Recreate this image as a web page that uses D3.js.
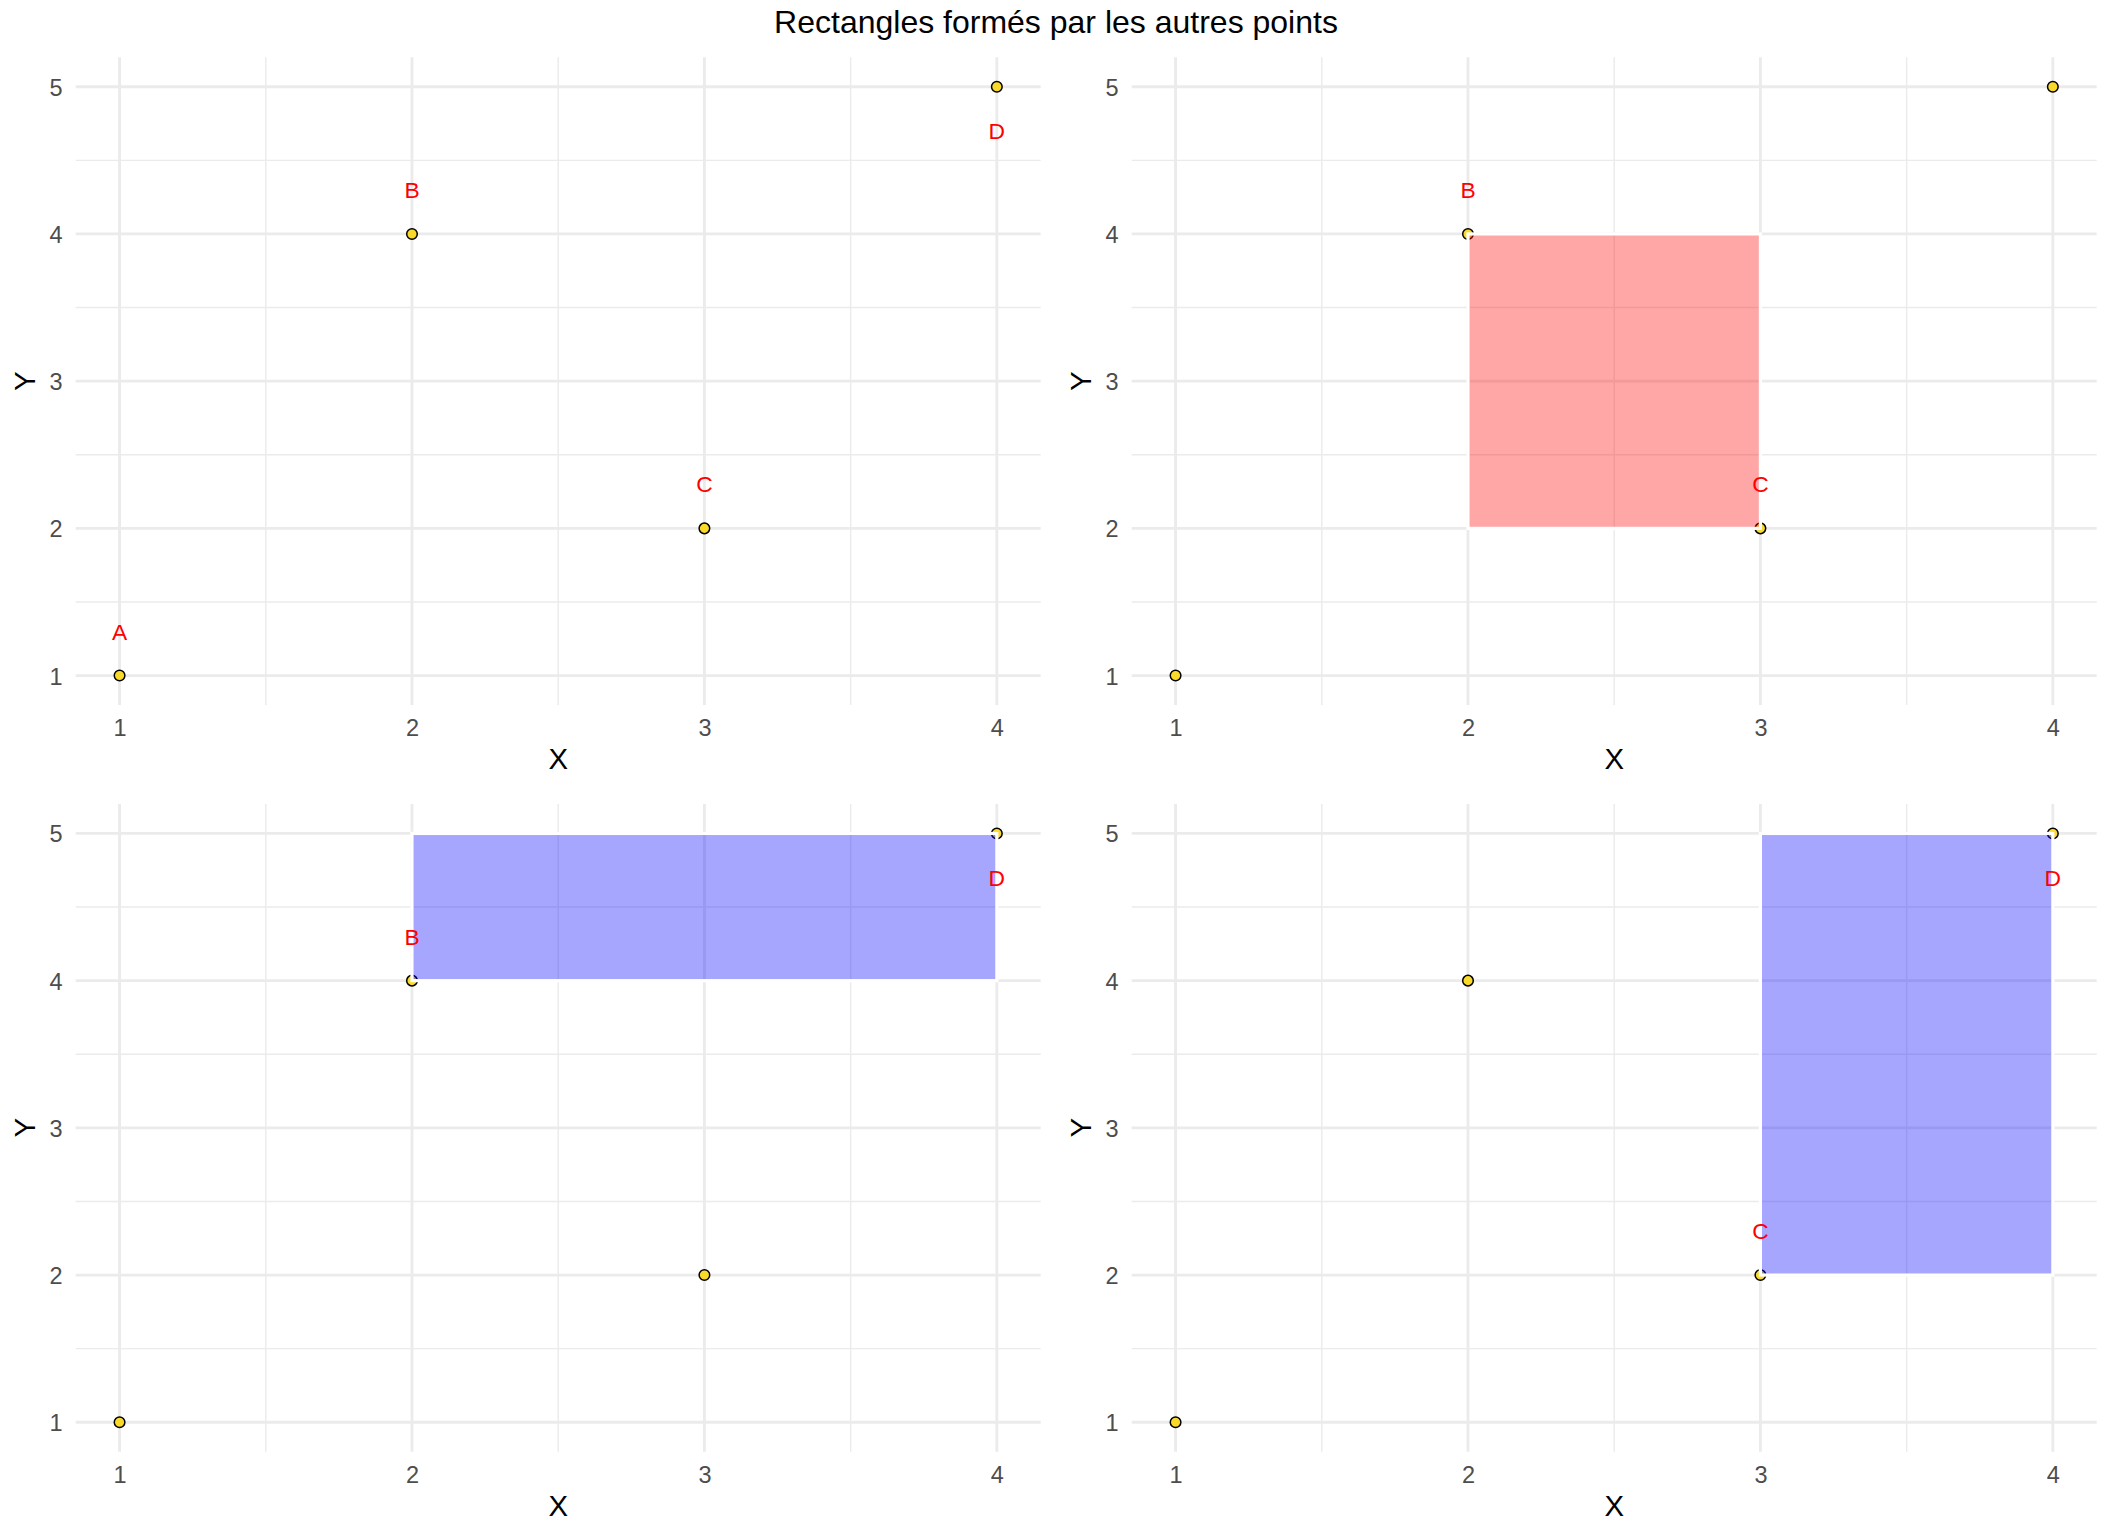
<!DOCTYPE html>
<html>
<head>
<meta charset="utf-8">
<script src="https://cdn.jsdelivr.net/npm/d3@7"></script>
<style>
  html, body { margin: 0; padding: 0; background: #ffffff; }
  svg { display: block; }
</style>
</head>
<body>
<script>
// ---- data ----
const chartTitle = "Rectangles formés par les autres points";
const pointNames = ["A", "B", "C", "D"];
const pointX = [1, 2, 3, 4];
const pointY = [1, 4, 2, 5];
const labelNudge = [0.3, 0.3, 0.3, -0.3];
const panelLabels = [["A", "B", "C", "D"], ["B", "C"], ["B", "D"], ["C", "D"]];
const rectXmin = [null, 2, 2, 3];
const rectXmax = [null, 3, 4, 4];
const rectYmin = [null, 2, 4, 2];
const rectYmax = [null, 4, 5, 5];
const rectGroup = [null, "red", "blue", "blue"];
const xTicks = [1, 2, 3, 4];
const yTicks = [1, 2, 3, 4, 5];
const xMinor = [1.5, 2.5, 3.5];
const yMinor = [1.5, 2.5, 3.5, 4.5];
const xTitle = "X";
const yTitle = "Y";

// ---- layout ----
const W = 2112, H = 1536;
const titleH = 42.6;
const cellW = W / 2, cellH = (H - titleH) / 2;
const pLeft = 75.7, pRight = cellW - 15.3, pTop = 14.7, pBottom = 662.4;
const font = "'Liberation Sans', Arial, Helvetica, sans-serif";
const fillMap = { red: "rgba(255,0,0,0.35)", blue: "rgba(0,0,255,0.35)" };

const svg = d3.select("body").append("svg")
  .attr("width", W).attr("height", H)
  .attr("viewBox", `0 0 ${W} ${H}`);
svg.append("rect").attr("width", W).attr("height", H).attr("fill", "#fff");

svg.append("text")
  .attr("x", W / 2).attr("y", 33)
  .attr("text-anchor", "middle")
  .attr("font-family", font).attr("font-size", 32)
  .attr("fill", "#000")
  .text(chartTitle);

const points = pointNames.map((n, i) => ({ name: n, x: pointX[i], y: pointY[i], nudge: labelNudge[i] }));

panelLabels.forEach((labs, pi) => {
  const col = pi % 2, row = Math.floor(pi / 2);
  const g = svg.append("g").attr("transform", `translate(${col * cellW},${titleH + row * cellH})`);

  const x = d3.scaleLinear().domain([0.85, 4.15]).range([pLeft, pRight]);
  const y = d3.scaleLinear().domain([0.8, 5.2]).range([pBottom, pTop]);

  // minor grid
  g.append("g").selectAll("line.vx").data(xMinor).join("line")
    .attr("x1", d => x(d)).attr("x2", d => x(d)).attr("y1", pTop).attr("y2", pBottom)
    .attr("stroke", "#EBEBEB").attr("stroke-width", 1.42);
  g.append("g").selectAll("line.hy").data(yMinor).join("line")
    .attr("y1", d => y(d)).attr("y2", d => y(d)).attr("x1", pLeft).attr("x2", pRight)
    .attr("stroke", "#EBEBEB").attr("stroke-width", 1.42);
  // major grid
  g.append("g").selectAll("line").data(xTicks).join("line")
    .attr("x1", d => x(d)).attr("x2", d => x(d)).attr("y1", pTop).attr("y2", pBottom)
    .attr("stroke", "#EBEBEB").attr("stroke-width", 2.84);
  g.append("g").selectAll("line").data(yTicks).join("line")
    .attr("y1", d => y(d)).attr("y2", d => y(d)).attr("x1", pLeft).attr("x2", pRight)
    .attr("stroke", "#EBEBEB").attr("stroke-width", 2.84);

  // axes (d3 axes, with domain and ticks hidden)
  const xAxis = g.append("g").attr("transform", `translate(0,${pBottom})`)
    .call(d3.axisBottom(x).tickValues(xTicks).tickFormat(d3.format("d")).tickSize(0).tickPadding(0));
  xAxis.select(".domain").remove();
  xAxis.selectAll("text").attr("y", 31).attr("dy", null)
    .attr("font-family", font).attr("font-size", 23.5).attr("fill", "#4D4D4D");

  const yAxis = g.append("g").attr("transform", `translate(${pLeft},0)`)
    .call(d3.axisLeft(y).tickValues(yTicks).tickFormat(d3.format("d")).tickSize(0).tickPadding(0));
  yAxis.select(".domain").remove();
  yAxis.selectAll("text").attr("x", -13.2).attr("dy", "0.36em")
    .attr("font-family", font).attr("font-size", 23.5).attr("fill", "#4D4D4D");

  // axis titles
  g.append("text")
    .attr("x", (pLeft + pRight) / 2).attr("y", 726.7)
    .attr("text-anchor", "middle")
    .attr("font-family", font).attr("font-size", 29.3).attr("fill", "#000")
    .text(xTitle);
  g.append("text")
    .attr("transform", `translate(35,${(pTop + pBottom) / 2}) rotate(-90)`)
    .attr("text-anchor", "middle")
    .attr("font-family", font).attr("font-size", 29.3).attr("fill", "#000")
    .text(yTitle);

  // points
  g.append("g").selectAll("circle").data(points).join("circle")
    .attr("cx", d => x(d.x)).attr("cy", d => y(d.y)).attr("r", 5.3)
    .attr("fill", "#F9DA2A").attr("stroke", "#000").attr("stroke-width", 1.5);

  // rectangle
  if (rectGroup[pi]) {
    g.append("rect")
      .attr("x", x(rectXmin[pi])).attr("y", y(rectYmax[pi]))
      .attr("width", x(rectXmax[pi]) - x(rectXmin[pi]))
      .attr("height", y(rectYmin[pi]) - y(rectYmax[pi]))
      .attr("fill", fillMap[rectGroup[pi]])
      .attr("stroke", "#fff").attr("stroke-width", 3.2);
  }

  // labels
  const labPts = points.filter(p => labs.includes(p.name));
  g.append("g").selectAll("text").data(labPts).join("text")
    .attr("x", d => x(d.x)).attr("y", d => y(d.y + d.nudge))
    .attr("dy", "0.36em")
    .attr("text-anchor", "middle")
    .attr("font-family", font).attr("font-size", 22.8).attr("fill", "#FF0000")
    .text(d => d.name);
});
</script>
</body>
</html>
